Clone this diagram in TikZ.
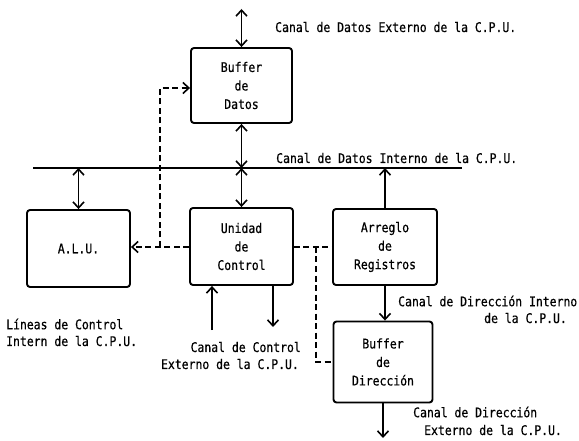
\documentclass[tikz,border=0pt]{standalone}
\usepackage{fontspec}
\setmonofont[FakeStretch=0.86,FakeBold=0.6]{DejaVu Sans Mono}
\usetikzlibrary{arrows.meta}
\tikzset{
  blk/.style={draw, line width=1.9pt, rounded corners=3pt, align=center,
    font=\ttfamily\fontsize{13.3}{18.5}\selectfont},
  lbl/.style={inner sep=0pt, font=\ttfamily\fontsize{13.3}{17}\selectfont},
  ln/.style={line width=1.9pt},
  tip/.style={-{Straight Barb[length=6pt,width=11pt,line width=1.6pt]}},
  dtip/.style={{Straight Barb[length=6pt,width=11pt,line width=1.6pt]}-{Straight Barb[length=6pt,width=11pt,line width=1.6pt]}},
  dsh/.style={line width=1.9pt, dash pattern=on 6pt off 3.5pt}
}
\begin{document}
\begin{tikzpicture}[x=1pt,y=-1pt]
\useasboundingbox (0,0) rectangle (579,441);
\node[blk, minimum width=101pt, minimum height=75pt] (bd) at (241.5,85.5) {Buffer\\de\\Datos};
\node[blk, minimum width=103pt, minimum height=77pt] (alu) at (78.5,248.5) {A.L.U.};
\node[blk, minimum width=103pt, minimum height=77pt] (uc) at (241.5,246.5) {Unidad\\de\\Control};
\node[blk, minimum width=104pt, minimum height=76pt] (ar) at (385,247) {Arreglo\\de\\Registros};
\node[blk, minimum width=99pt, minimum height=81pt] (bdir) at (383,362) {Buffer\\de\\Dirección};
\coordinate (busL) at (33,168);
\coordinate (busR) at (462,168);
\coordinate (top) at (241.5,9);
\coordinate (ctlin) at (212,330);
\coordinate (ctlout) at (273,327);
\coordinate (dirout) at (385,438);
\coordinate (j1) at (160,247);
\coordinate (j2) at (316,247);
% bus
\draw[ln] (busL) -- (busR);
% arrows
\draw[ln,dtip] (top) -- (bd.north);
\draw[ln,dtip] (bd.south) -- (bd.south |- busL);
\draw[ln,dtip] (uc.north |- busL) -- (uc.north);
\draw[ln,dtip] (alu.north) -- (alu.north |- busL);
\draw[ln,tip] (ar.north) -- (ar.north |- busL);
\draw[ln,tip] (ar.south) -- (ar.south |- bdir.north);
\draw[ln,tip] (bdir.south) -- (bdir.south |- dirout);
\draw[ln,tip] (ctlin) -- (ctlin |- uc.south);
\draw[ln,tip] (ctlout |- uc.south) -- (ctlout);
% dashed control lines
\draw[dsh,tip] (uc.west |- j1) -- (alu.east |- j1);
\draw[dsh,tip] (j1) -- (j1 |- 0,88) -- (bd.west |- 0,88);
\draw[dsh] (uc.east |- j2) -- (ar.west |- j2);
\draw[dsh] (j2) -- (j2 |- 0,362) -- (bdir.west |- 0,362);
% labels
\node[lbl, anchor=west] (l1) at (275,27) {Canal de Datos Externo de la C.P.U.};
\node[lbl, anchor=west] (l2) at (276,158) {Canal de Datos Interno de la C.P.U.};
\node[lbl, anchor=west] (l3a) at (6,324) {Líneas de Control};
\node[lbl, anchor=west] (l3b) at (6,341) {Intern de la C.P.U.};
\node[lbl, anchor=east] (l4a) at (301,347) {Canal de Control};
\node[lbl, anchor=east] (l4b) at (299,364) {Externo de la C.P.U.};
\node[lbl, anchor=west] (l5a) at (398,301) {Canal de Dirección Interno};
\node[lbl, anchor=west] (l5b) at (484,318) {de la C.P.U.};
\node[lbl, anchor=west] (l6a) at (413,412) {Canal de Dirección};
\node[lbl, anchor=west] (l6b) at (424,430) {Externo de la C.P.U.};
\end{tikzpicture}
\end{document}
